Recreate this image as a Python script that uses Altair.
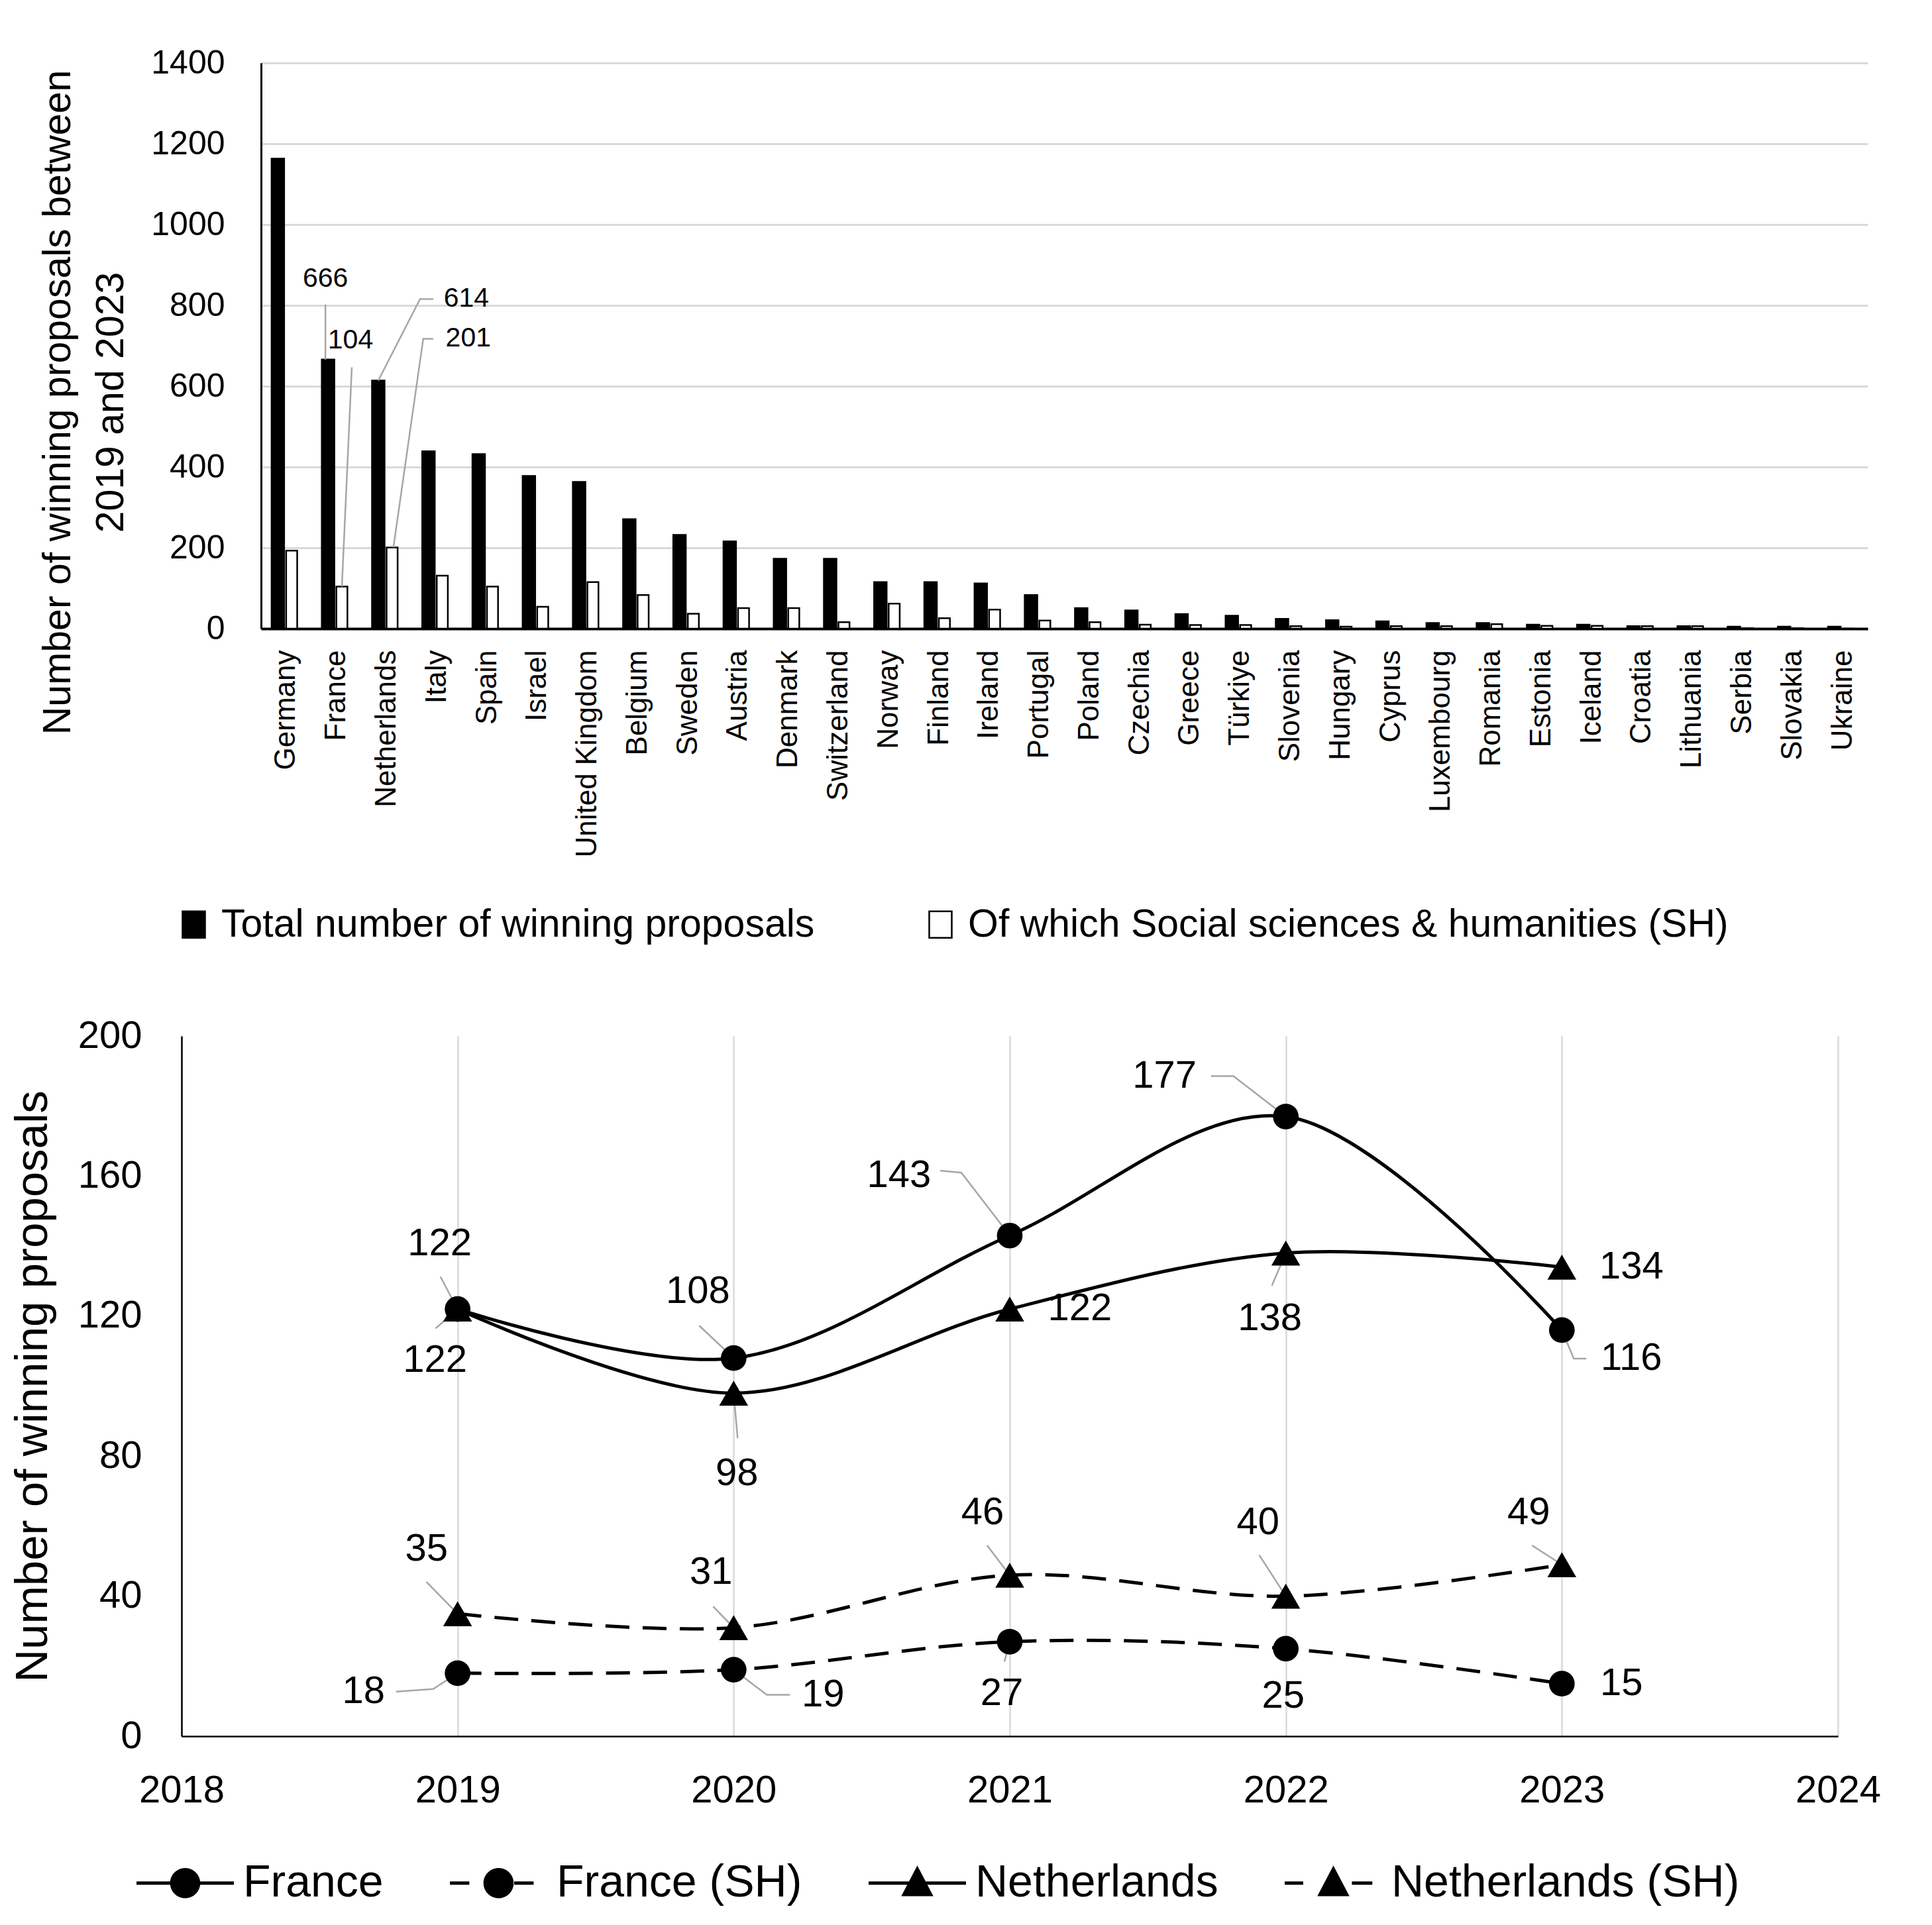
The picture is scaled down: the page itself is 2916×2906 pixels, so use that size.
import json
import altair as alt
import pandas as pd

# ---------------- data ----------------
countries = ["Germany", "France", "Netherlands", "Italy", "Spain", "Israel",
             "United Kingdom", "Belgium", "Sweden", "Austria", "Denmark",
             "Switzerland", "Norway", "Finland", "Ireland", "Portugal", "Poland",
             "Czechia", "Greece", "Türkiye", "Slovenia", "Hungary", "Cyprus",
             "Luxembourg", "Romania", "Estonia", "Iceland", "Croatia",
             "Lithuania", "Serbia", "Slovakia", "Ukraine"]
total = [1163, 666, 614, 439, 432, 378, 363, 271, 232, 216, 173, 173, 115, 115,
         112, 83, 51, 45, 36, 32, 24, 21, 18, 14, 14, 10, 10, 6, 6, 5, 5, 5]
sh = [193, 104, 201, 131, 104, 54, 115, 83, 37, 51, 51, 16, 62, 26, 47, 20, 16,
      10, 9, 9, 6, 5, 6, 6, 11, 7, 7, 6, 6, 1, 1, 0]

years = [2019, 2020, 2021, 2022, 2023]
france = [122, 108, 143, 177, 116]
france_sh = [18, 19, 27, 25, 15]
netherlands = [122, 98, 122, 138, 134]
netherlands_sh = [35, 31, 46, 40, 49]

FONT = "Liberation Sans, Arial, sans-serif"
TOTAL_NAME = "Total number of winning proposals"
SH_NAME = "Of which Social sciences & humanities (SH)"
GRID = "#d9d9d9"
LEADER = "#a6a6a6"

# ---------------- top chart ----------------
TW, TH = 2425, 854
N = len(countries)
PXX_T = TW / N
PXY_T = TH / 1400.0
BLACK_L, BLACK_R = -0.29, -0.04
WHITE_L, WHITE_R = 0.0, 0.22

bar_rows = []
for i, (c, t, s) in enumerate(zip(countries, total, sh)):
    mid = i + 0.5
    bar_rows.append({"country": c, "series": TOTAL_NAME, "value": t,
                     "x0": mid + BLACK_L, "x1": mid + BLACK_R})
    bar_rows.append({"country": c, "series": SH_NAME, "value": s,
                     "x0": mid + WHITE_L, "x1": mid + WHITE_R})
bars_df = pd.DataFrame(bar_rows)

top_x = alt.Scale(domain=[0, N], nice=False, zero=False)
top_y = alt.Scale(domain=[0, 1400], nice=False)

x_axis_top = alt.Axis(
    values=[i + 0.5 for i in range(N)],
    labelExpr=json.dumps(countries, ensure_ascii=False) + "[floor(datum.value)]",
    labelAngle=-90, labelFontSize=44, labelPadding=32, labelOverlap=False,
    labelFlush=False, labelLimit=0, ticks=False, grid=False,
    domainColor="black", domainWidth=4, title=None, labelColor="black")
y_axis_top = alt.Axis(
    values=list(range(0, 1401, 200)), format="d", grid=True, gridColor=GRID,
    gridWidth=3, ticks=False, domainColor="black", domainWidth=3,
    labelFontSize=50, labelPadding=55, labelColor="black", labelFlush=False,
    title=["Number of winning proposals between", "2019 and 2023"],
    titleFontSize=59, titleFontWeight="normal", titleLineHeight=80,
    titlePadding=30, titleY=512, titleColor="black")

top_legend = alt.Legend(
    orient="none", legendX=-131, legendY=1271, direction="horizontal",
    title=None, symbolType="M-0.85,-1H0.85V1H-0.85Z", symbolSize=1600,
    symbolStrokeColor="black", symbolStrokeWidth=2.5, labelFontSize=59,
    labelOffset=12, columnPadding=160, labelLimit=0, labelColor="black")

bars = alt.Chart(bars_df).mark_bar(stroke="black", strokeWidth=2.5).encode(
    x=alt.X("x0:Q", scale=top_x, axis=x_axis_top),
    x2="x1:Q",
    y=alt.Y("value:Q", scale=top_y, axis=y_axis_top),
    y2=alt.datum(0),
    fill=alt.Fill("series:N",
                  scale=alt.Scale(domain=[TOTAL_NAME, SH_NAME],
                                  range=["black", "white"]),
                  legend=top_legend),
)

# annotation offsets (pixels from bar top)
TOP_ANN = [
    ("France", "total", (-4, -122), [(-4, -83), (-4, 0)]),
    ("France", "sh", (13, -372), [(15, -331), (0, 0)]),
    ("Netherlands", "total", (133, -123), [(83, -123), (63, -123), (0, 0)]),
    ("Netherlands", "sh", (115, -315), [(62, -315), (47, -315), (2, 0)]),
]
tl_rows, tlead_rows = [], []
for k, (c, ser, (ldx, ldy), lead) in enumerate(TOP_ANN):
    i = countries.index(c)
    if ser == "total":
        v = total[i]
        cx = i + 0.5 + (BLACK_L + BLACK_R) / 2
    else:
        v = sh[i]
        cx = i + 0.5 + (WHITE_L + WHITE_R) / 2
    tl_rows.append({"x": cx + ldx / PXX_T, "y": v - ldy / PXY_T, "text": str(v)})
    for j, (dx, dy) in enumerate(lead):
        tlead_rows.append({"id": k, "o": j, "x": cx + dx / PXX_T,
                           "y": v - dy / PXY_T})

top_labels = alt.Chart(pd.DataFrame(tl_rows)).mark_text(
    fontSize=41, color="black", align="center", baseline="middle").encode(
    x=alt.X("x:Q", scale=top_x), y=alt.Y("y:Q", scale=top_y), text="text:N")
top_leaders = alt.Chart(pd.DataFrame(tlead_rows)).mark_line(
    color=LEADER, strokeWidth=2.5).encode(
    x=alt.X("x:Q", scale=top_x), y=alt.Y("y:Q", scale=top_y),
    detail="id:N", order="o:Q")

top = alt.layer(bars, top_leaders, top_labels).properties(width=TW, height=TH)

# ---------------- bottom chart ----------------
SHIFT = 120            # bottom plot starts this far left of the top plot
BW, BH = 2500, 1057
PXX_B = BW / 6.0
PXY_B = BH / 200.0
SERIES = ["France", "France (SH)", "Netherlands", "Netherlands (SH)"]
series_vals = {"France": france, "France (SH)": france_sh,
               "Netherlands": netherlands, "Netherlands (SH)": netherlands_sh}

line_rows = []
for s in SERIES:
    for y, v in zip(years, series_vals[s]):
        line_rows.append({"series": s, "year": y, "value": v})
line_df = pd.DataFrame(line_rows)

LABEL_OFFSETS = {
    "France": [(-27, -98), (-54, -100), (-167, -90), (-183, -61), (105, 43)],
    "Netherlands": [(-34, 78), (5, 122), (106, 0), (-24, 99), (105, 0)],
    "France (SH)": [(-142, 28), (135, 38), (-12, 79), (-4, 72), (90, 0)],
    "Netherlands (SH)": [(-47, -97), (-34, -83), (-41, -94), (-42, -111), (-50, -78)],
}
LEADERS = {
    ("France", 2019): [(-26, -49), (0, 0)],
    ("France", 2020): [(-52, -49), (0, 0)],
    ("France", 2021): [(-105, -98), (-73, -95), (0, 0)],
    ("France", 2022): [(-113, -61), (-79, -61), (0, 0)],
    ("France", 2023): [(37, 43), (18, 43), (0, 0)],
    ("Netherlands", 2019): [(-33, 29), (0, 0)],
    ("Netherlands", 2020): [(6, 68), (0, 0)],
    ("Netherlands", 2022): [(-21, 49), (0, 0)],
    ("France (SH)", 2019): [(-93, 28), (-37, 24), (0, 0)],
    ("France (SH)", 2020): [(85, 38), (50, 38), (0, 0)],
    ("France (SH)", 2021): [(-8, 30), (0, 0)],
    ("Netherlands (SH)", 2019): [(-47, -48), (0, 0)],
    ("Netherlands (SH)", 2020): [(-31, -32), (0, 0)],
    ("Netherlands (SH)", 2021): [(-34, -45), (0, 0)],
    ("Netherlands (SH)", 2022): [(-40, -62), (0, 0)],
    ("Netherlands (SH)", 2023): [(-45, -29), (0, 0)],
}

lab_rows, lead_rows = [], []
for s in SERIES:
    for (y, v), (dx, dy) in zip(zip(years, series_vals[s]), LABEL_OFFSETS[s]):
        lab_rows.append({"x": y + dx / PXX_B, "y": v - dy / PXY_B, "text": str(v)})
for k, ((s, y), pts) in enumerate(LEADERS.items()):
    v = series_vals[s][years.index(y)]
    for j, (dx, dy) in enumerate(pts):
        lead_rows.append({"id": k, "o": j, "x": y + dx / PXX_B, "y": v - dy / PXY_B})

bx = alt.Scale(domain=[2018, 2024], nice=False, zero=False,
               range=[-SHIFT, BW - SHIFT])
by = alt.Scale(domain=[0, 200], nice=False)
x_axis_b = alt.Axis(values=list(range(2018, 2025)), format="d", grid=True,
                    gridColor=GRID, gridWidth=2.5, ticks=False, labelFlush=False,
                    domainColor="black", domainWidth=2.5, labelFontSize=58,
                    labelPadding=53, title=None, labelColor="black")
y_axis_b = alt.Axis(values=list(range(0, 201, 40)), grid=False, ticks=False,
                    offset=SHIFT, labelFlush=False,
                    domainColor="black", domainWidth=2.5, labelFontSize=58,
                    labelPadding=60, labelColor="black",
                    title="Number of winning proposals", titleFontSize=69,
                    titleFontWeight="normal", titlePadding=33, titleColor="black")

base = alt.Chart(line_df)
solid = base.transform_filter(
    alt.FieldOneOfPredicate(field="series", oneOf=["France", "Netherlands"])
).mark_line(interpolate="catmull-rom", color="black", strokeWidth=5).encode(
    x=alt.X("year:Q", scale=bx, axis=x_axis_b),
    y=alt.Y("value:Q", scale=by, axis=y_axis_b),
    detail="series:N")
dashed = base.transform_filter(
    alt.FieldOneOfPredicate(field="series", oneOf=["France (SH)", "Netherlands (SH)"])
).mark_line(interpolate="catmull-rom", color="black", strokeWidth=5,
            strokeDash=[36, 20]).encode(
    x=alt.X("year:Q", scale=bx), y=alt.Y("value:Q", scale=by), detail="series:N")

leaders = alt.Chart(pd.DataFrame(lead_rows)).mark_line(
    color=LEADER, strokeWidth=2.5).encode(
    x=alt.X("x:Q", scale=bx), y=alt.Y("y:Q", scale=by), detail="id:N", order="o:Q")

circles = base.transform_filter(
    alt.FieldOneOfPredicate(field="series", oneOf=["France", "France (SH)"])
).mark_point(shape="circle", filled=True, color="black", size=1500, opacity=1).encode(
    x=alt.X("year:Q", scale=bx), y=alt.Y("value:Q", scale=by))
triangles = base.transform_filter(
    alt.FieldOneOfPredicate(field="series", oneOf=["Netherlands", "Netherlands (SH)"])
).mark_point(shape="triangle-up", filled=True, color="black", size=1900, opacity=1).encode(
    x=alt.X("year:Q", scale=bx), y=alt.Y("value:Q", scale=by))

labels = alt.Chart(pd.DataFrame(lab_rows)).mark_text(
    fontSize=58, color="black", align="center", baseline="middle").encode(
    x=alt.X("x:Q", scale=bx), y=alt.Y("y:Q", scale=by), text="text:N")

# legend symbols: filled shapes only (line segments as thin rectangles)
CIRC = "M0.31,0A0.31,0.31,0,1,1,-0.31,0A0.31,0.31,0,1,1,0.31,0Z"
TRI = "M0,-0.36L0.33,0.27L-0.33,0.27Z"
def seg(a, b):
    return f"M{a},-0.035H{b}V0.035H{a}Z"
PATHS = [seg(-1, 1) + CIRC,
         seg(-1, -0.6) + seg(0.32, 0.72) + CIRC,
         seg(-1, 1) + TRI,
         seg(-1, -0.62) + seg(0.38, 0.8) + TRI]

legend_layer = base.mark_point(filled=True, opacity=0, color="black",
                               strokeWidth=0, size=21609).encode(
    x=alt.X("year:Q", scale=bx), y=alt.Y("value:Q", scale=by),
    shape=alt.Shape("series:N", scale=alt.Scale(domain=SERIES, range=PATHS),
                    legend=alt.Legend(
                        orient="none", legendX=-68 - SHIFT, legendY=1205,
                        direction="horizontal", title=None, symbolSize=21609,
                        symbolStrokeWidth=0, symbolFillColor="black",
                        symbolOpacity=1, labelFontSize=68, labelOffset=14,
                        columnPadding=100, labelLimit=0, labelColor="black")))

bottom = alt.layer(solid, dashed, leaders, circles, triangles, labels,
                   legend_layer).properties(width=BW - SHIFT, height=BH)

chart = alt.concat(top, bottom, columns=1, spacing=109).resolve_scale(
    fill="independent", shape="independent"
).resolve_legend(fill="independent", shape="independent").properties(
    padding={"left": 7, "top": 62, "right": 0, "bottom": 0}
).configure(font=FONT).configure_view(stroke=None)

chart.save("out.html", embed_options={"renderer": "svg", "actions": False})
